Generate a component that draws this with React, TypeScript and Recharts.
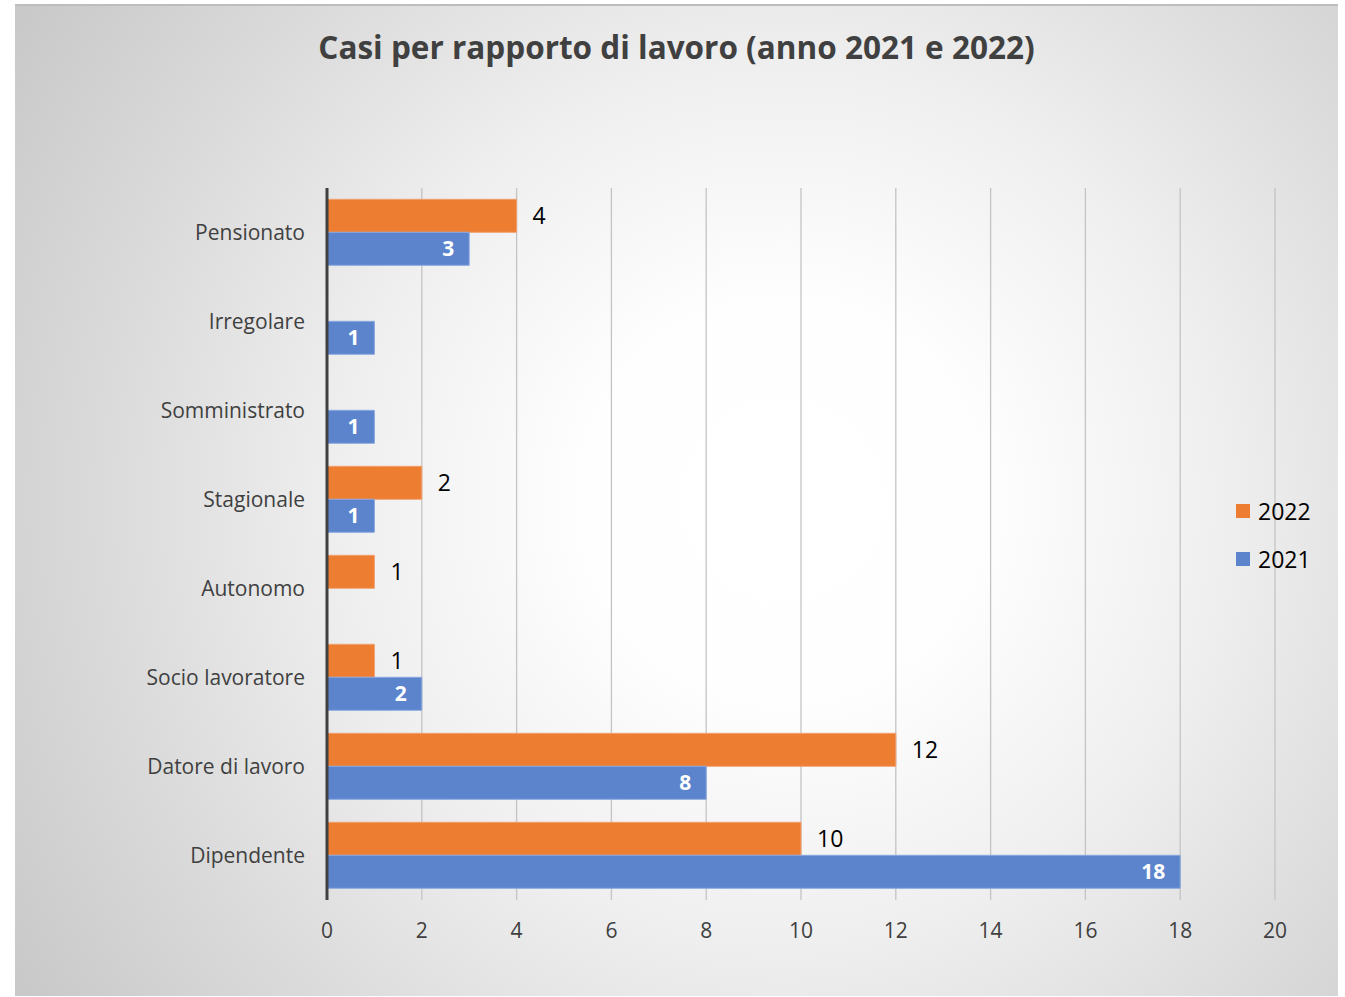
import React from "react";
import {
  BarChart,
  Bar,
  XAxis,
  YAxis,
  CartesianGrid,
  LabelList,
} from "recharts";

const categories = [
  "Pensionato",
  "Irregolare",
  "Somministrato",
  "Stagionale",
  "Autonomo",
  "Socio lavoratore",
  "Datore di lavoro",
  "Dipendente",
];
const values2022: (number | null)[] = [4, null, null, 2, 1, 1, 12, 10];
const values2021: (number | null)[] = [3, 1, 1, 1, null, 2, 8, 18];
const xTicks = [0, 2, 4, 6, 8, 10, 12, 14, 16, 18, 20];

const seriesInfo = [
  { key: "y2022", name: "2022", color: "#ED7D31" },
  { key: "y2021", name: "2021", color: "#5B84CC" },
];

const data = categories.map((c, i) => ({
  cat: c,
  y2022: values2022[i],
  y2021: values2021[i],
}));

const FONT = "'Open Sans', 'Noto Sans', sans-serif";
const W = 1323;
const H = 992;

export default function App() {
  return (
    <div
      style={{
        position: "absolute",
        left: 15,
        top: 4,
        width: W,
        height: H,
        background:
          "radial-gradient(circle farthest-corner at 58% 50%, #ffffff 0%, #fefefe 22%, #efefef 48%, #dadada 75%, #c8c8c8 100%)",
        borderTop: "2px solid #bdbdbd",
        boxSizing: "border-box",
        fontFamily: FONT,
      }}
    >
      <div
        style={{
          position: "absolute",
          left: 0,
          width: "100%",
          top: 19,
          textAlign: "center",
          fontSize: 31.5,
          fontWeight: 700,
          color: "#404040",
          fontFamily: FONT,
        }}
      >
        Casi per rapporto di lavoro (anno 2021 e 2022)
      </div>
      <BarChart
        width={W}
        height={H - 2}
        data={data}
        layout="vertical"
        margin={{ top: 182, right: 63, bottom: 36, left: 0 }}
        barCategoryGap="12.7%"
        barGap={0}
        style={{ position: "absolute", left: 0, top: 0 }}
      >
        <CartesianGrid horizontal={false} stroke="#c4c4c4" strokeWidth={1.3} />
        <XAxis
          type="number"
          domain={[0, 20]}
          ticks={xTicks}
          axisLine={false}
          tickLine={false}
          tickSize={0}
          tickMargin={23}
          height={60}
          tick={{ fill: "#404040", fontSize: 21, fontFamily: FONT }}
          interval={0}
        />
        <YAxis
          type="category"
          dataKey="cat"
          width={312}
          axisLine={{ stroke: "#404040", strokeWidth: 3 }}
          tickLine={false}
          tickSize={0}
          tickMargin={22}
          tick={{ fill: "#404040", fontSize: 21, fontFamily: FONT }}
          interval={0}
        />
        <Bar
          dataKey="y2022"
          name="2022"
          fill="#ED7D31"
          stroke="#f0a070"
          strokeWidth={1}
          isAnimationActive={false}
        >
          <LabelList
            dataKey="y2022"
            position="right"
            offset={16}
            fill="#000000"
            fontSize={23}
            fontFamily={FONT}
          />
        </Bar>
        <Bar
          dataKey="y2021"
          name="2021"
          fill="#5B84CC"
          stroke="#8aa8e0"
          strokeWidth={1}
          isAnimationActive={false}
        >
          <LabelList
            dataKey="y2021"
            position="insideRight"
            offset={15}
            fill="#ffffff"
            fontSize={21}
            fontWeight={700}
            fontFamily={FONT}
          />
        </Bar>
      </BarChart>
      <div
        style={{
          position: "absolute",
          left: 1221,
          top: 481,
          fontFamily: FONT,
          fontSize: 23,
          color: "#000000",
        }}
      >
        {seriesInfo.map((s) => (
          <div
            key={s.key}
            style={{
              display: "flex",
              alignItems: "center",
              height: 48,
            }}
          >
            <span
              style={{
                display: "inline-block",
                width: 14,
                height: 14,
                background: s.color,
                marginRight: 8,
              }}
            />
            <span>{s.name}</span>
          </div>
        ))}
      </div>
    </div>
  );
}
